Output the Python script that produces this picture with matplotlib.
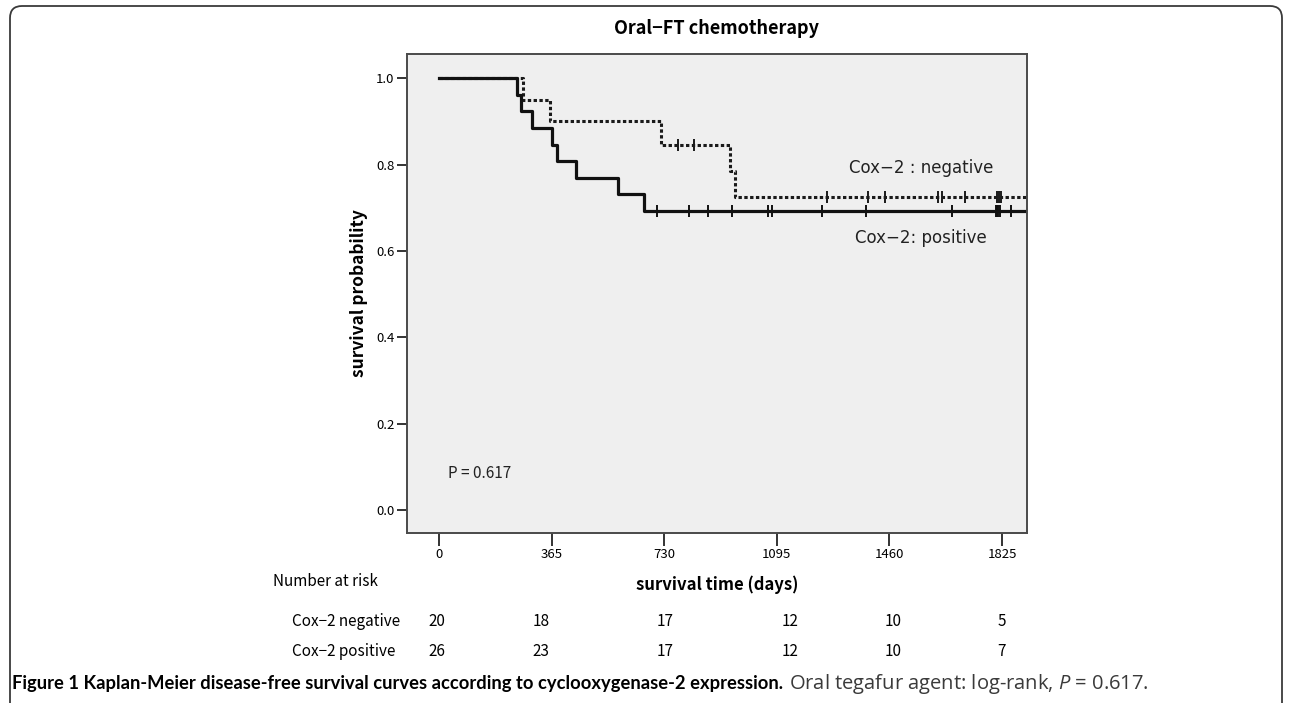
import numpy as np
import matplotlib
matplotlib.use("Agg")
import matplotlib.pyplot as plt
from matplotlib.patches import FancyBboxPatch
from matplotlib.transforms import IdentityTransform

# ---------------- data ----------------
x_ticks = [0, 365, 730, 1095, 1460, 1825]
y_ticks = [0.0, 0.2, 0.4, 0.6, 0.8, 1.0]

neg_times = [0, 272, 360, 720, 943, 960]
neg_surv = [1.0, 0.95, 0.90, 0.845, 0.785, 0.725]
neg_censor = [775, 827, 1258, 1391, 1446, 1617, 1630, 1705, 1809, 1815, 1822]

pos_times = [0, 253, 265, 301, 366, 382, 444, 580, 665]
pos_surv = [1.0, 0.962, 0.923, 0.885, 0.846, 0.808, 0.769, 0.731, 0.692]
pos_censor = [707, 810, 872, 950, 1066, 1079, 1241, 1384, 1663,
              1805, 1809, 1813, 1817, 1854]

follow_end = 1906

risk_labels = ["Cox\u22122 negative", "Cox\u22122 positive"]
risk_neg = [20, 18, 17, 12, 10, 5]
risk_pos = [26, 23, 17, 12, 10, 7]

title = "Oral\u2212FT chemotherapy"
p_text = "P = 0.617"

# ---------------- figure ----------------
W, H = 1292, 703
fig = plt.figure(figsize=(W / 100, H / 100), dpi=100)
fig.patch.set_facecolor("white")

gothic = ["Noto Sans CJK JP", "DejaVu Sans"]

# outer frame with rounded corners
frame = FancyBboxPatch((10, -40), 1272, 737,
                       boxstyle="round,pad=0,rounding_size=12",
                       transform=IdentityTransform(), fill=False,
                       lw=1.3, ec="#3a3a3a")
fig.add_artist(frame)

ax = fig.add_axes([407 / W, 1 - 533 / H, (1027 - 407) / W, (533 - 54) / H])
ax.set_facecolor("#efefef")
ax.set_xlim(-104, follow_end)
ax.set_ylim(-0.053, 1.056)

def level(times, surv, t):
    idx = np.searchsorted(times, t, side="right") - 1
    return np.asarray(surv)[idx]

# curves
ax.step(list(neg_times) + [follow_end], list(neg_surv) + [neg_surv[-1]],
        where="post", color="#1a1a1a", lw=2.2, ls=(0, (1.1, 0.8)))
ax.step(list(pos_times) + [follow_end], list(pos_surv) + [pos_surv[-1]],
        where="post", color="#111111", lw=2.3)

ax.plot(neg_censor, level(neg_times, neg_surv, neg_censor), ls="none",
        marker="|", ms=8, mew=1.4, color="#1a1a1a")
ax.plot(pos_censor, level(pos_times, pos_surv, pos_censor), ls="none",
        marker="|", ms=8, mew=1.4, color="#111111")

# spines / ticks
for s in ax.spines.values():
    s.set_color("#4a4a4a")
    s.set_linewidth(1.4)
ax.set_xticks(x_ticks)
ax.set_xticklabels([str(v) for v in x_ticks], fontfamily=gothic, fontsize=9.5)
ax.set_yticks(y_ticks)
ax.set_yticklabels([f"{v:.1f}" for v in y_ticks], fontfamily=gothic, fontsize=9.5)
ax.tick_params(axis="x", direction="out", length=9, width=1.4, color="#333333", pad=2)
ax.tick_params(axis="y", direction="out", length=7, width=1.4, color="#333333", pad=2)

ax.set_xlabel("survival time (days)", fontsize=12, fontweight="bold",
              fontfamily=gothic, labelpad=10)
ax.set_ylabel("survival probability", fontsize=12.5, fontweight="bold",
              fontfamily=gothic, labelpad=6)
fig.text(717 / W, 1 - 28 / H, title, ha="center", va="center",
         fontsize=13, fontweight="bold", fontfamily=gothic)

# annotations in the plot
ax.text(1562, 0.792, "Cox\u22122 : negative", ha="center", va="center",
        fontsize=12, fontfamily="DejaVu Sans", color="#222222")
ax.text(1562, 0.630, "Cox\u22122: positive", ha="center", va="center",
        fontsize=12, fontfamily="DejaVu Sans", color="#222222")
ax.text(30, 0.085, p_text, ha="left", va="center",
        fontsize=11, fontfamily=gothic, color="#222222")

# number at risk table (column centres in pixels)
col_px = [437, 541, 665, 790, 893, 1002]
fig.text(273 / W, 1 - 581 / H, "Number at risk", ha="left", va="center",
         fontsize=11, fontfamily=gothic)
for row, (lab, vals) in enumerate(zip(risk_labels, [risk_neg, risk_pos])):
    yy = 1 - (621 + 30 * row) / H
    fig.text(292 / W, yy, lab, ha="left", va="center", fontsize=11,
             fontfamily=gothic)
    for xp, n in zip(col_px, vals):
        fig.text(xp / W, yy, str(n), ha="center", va="center",
                 fontsize=11, fontfamily=gothic)

# caption: fit the two parts to their widths in the reference
cap_y = 1 - 684 / H
t1 = fig.text(12 / W, cap_y, "Figure 1 Kaplan-Meier disease-free survival curves "
              "according to cyclooxygenase-2 expression.", ha="left",
              va="center", fontsize=13, fontweight="bold", fontfamily="Lato")
fig.canvas.draw()
w1 = t1.get_window_extent().width
t1.set_fontsize(13 * 770 / w1)
fig.canvas.draw()
bb = t1.get_window_extent()
plt.rcParams["mathtext.fontset"] = "custom"
plt.rcParams["mathtext.it"] = "Open Sans:italic"
t2 = fig.text((bb.x1 + 6) / W, cap_y,
              r"Oral tegafur agent: log-rank, $\mathit{P}$ = 0.617.", ha="left",
              va="center", fontsize=13, fontfamily="Open Sans", color="#3a3a3a")
fig.canvas.draw()
w2 = t2.get_window_extent().width
target2 = 1232 - (bb.x1 + 6)
t2.set_fontsize(min(14.5, 13 * target2 / w2))

fig.savefig("out.png", dpi=100, facecolor="white")
